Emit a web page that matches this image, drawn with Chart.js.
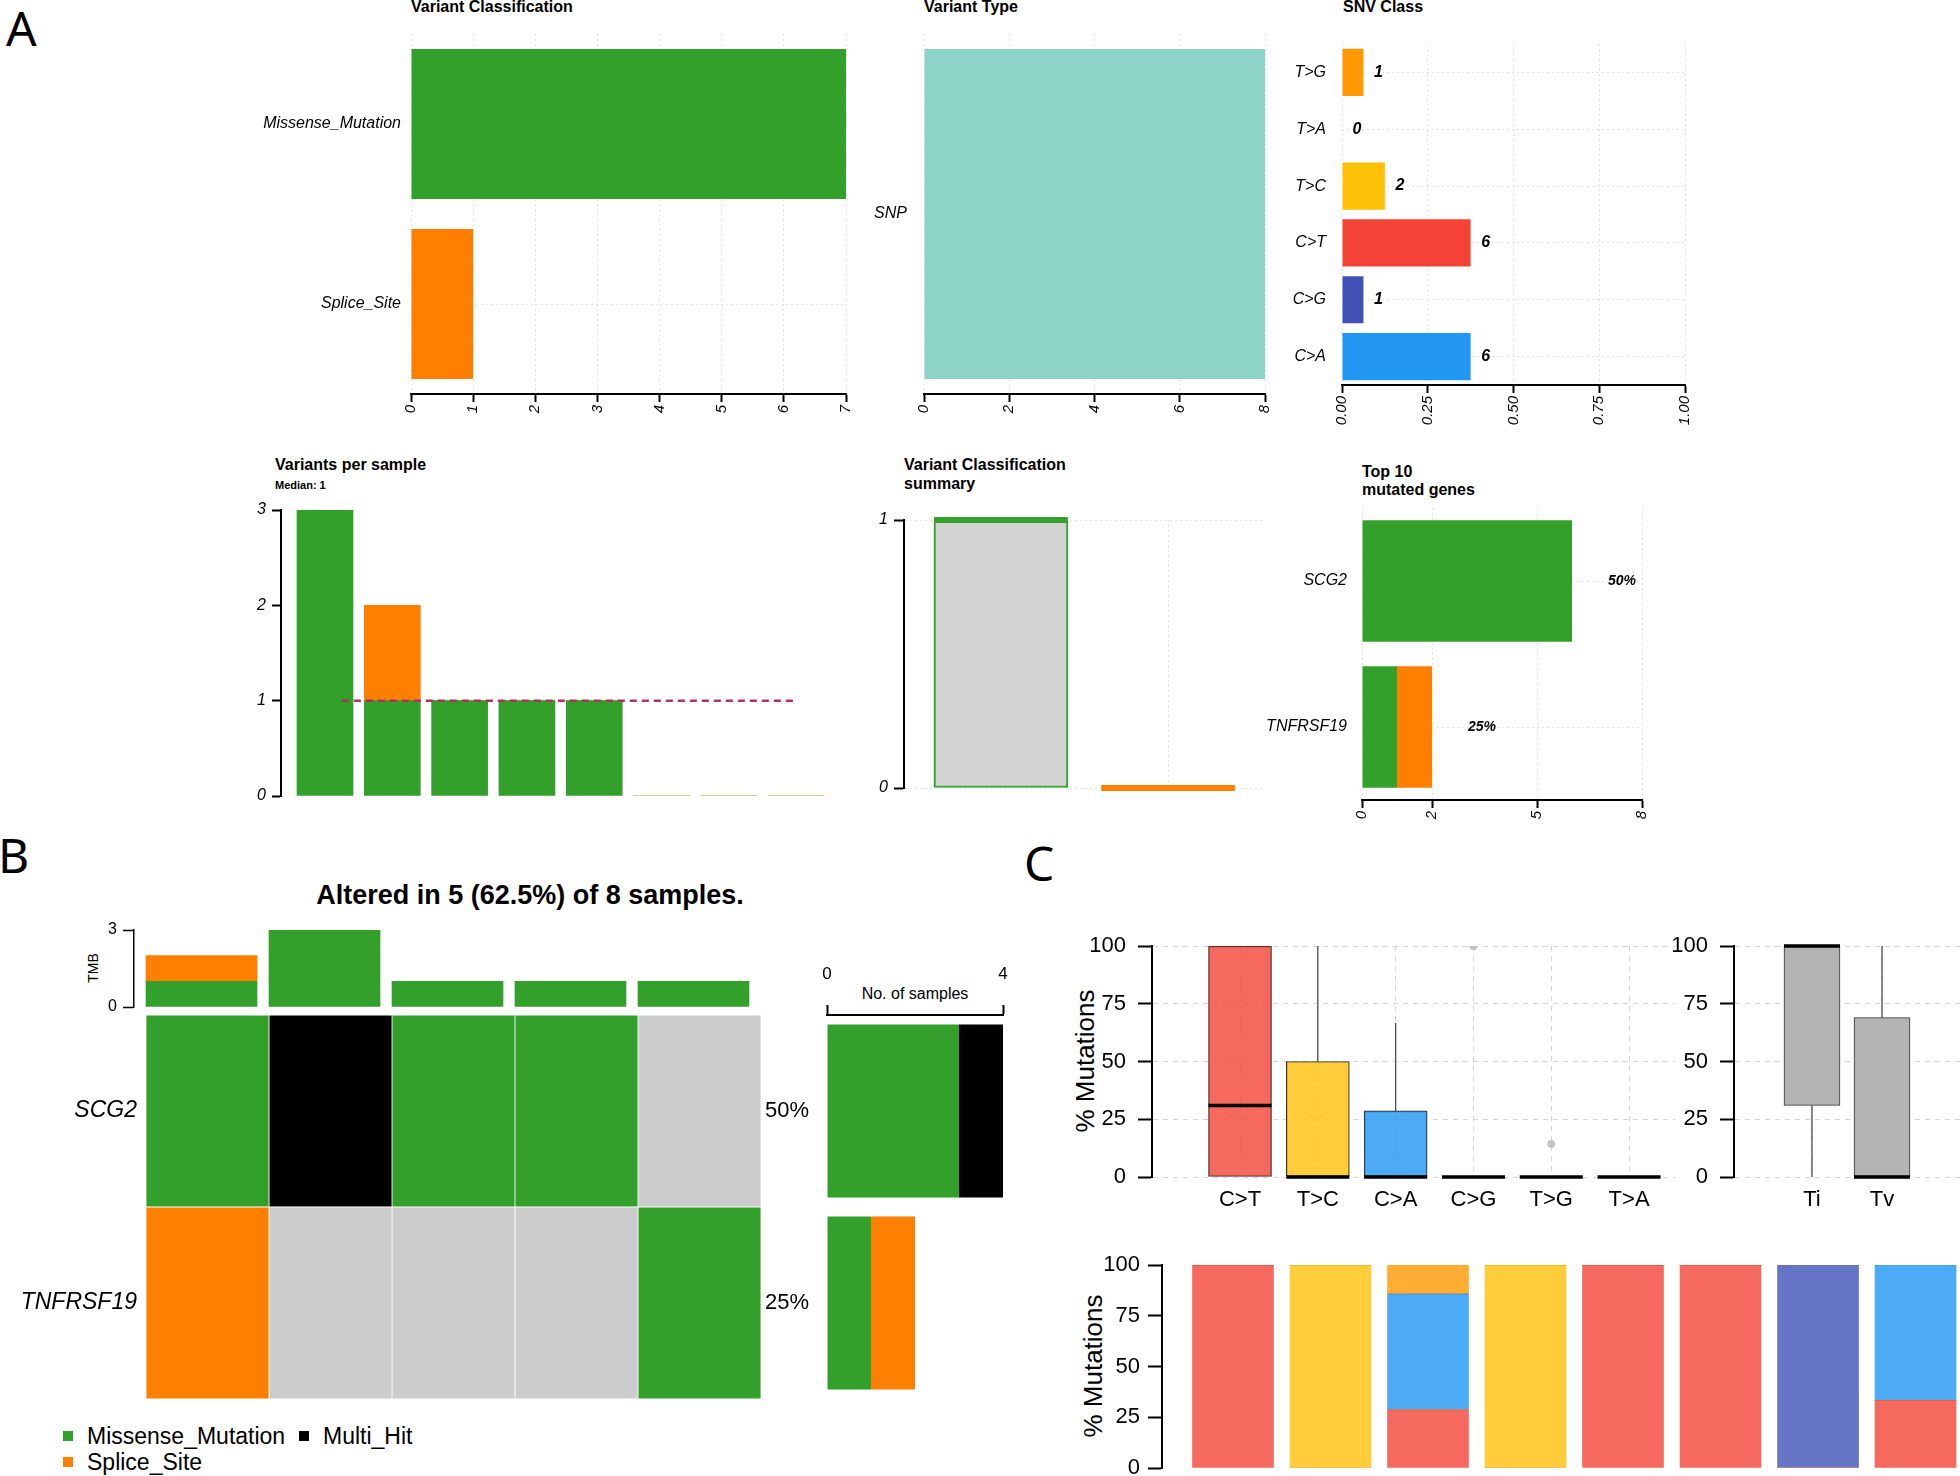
<!DOCTYPE html>
<html>
<head>
<meta charset="utf-8">
<title>Mutation summary</title>
<script src="https://cdn.jsdelivr.net/npm/chart.js@4.4.1/dist/chart.umd.min.js"></script>
<style>
  body { margin: 0; width: 1960px; height: 1476px; position: relative; overflow: hidden; background: #fff;
         font-family: 'Liberation Sans', Arial, Helvetica, sans-serif; color: #000; }
  .t { position: absolute; white-space: nowrap; line-height: 1; }
  .b { font-weight: bold; }
  .letter { position: absolute; font-family: 'Noto Sans', sans-serif; font-size: 48px; line-height: 1; }
  .rot { position: absolute; transform: rotate(-90deg); text-align: center; white-space: nowrap; }
  .sq { position: absolute; width: 10px; height: 10px; }
</style>
</head>
<body>

<!-- panel letters -->
<div class="letter" style="left:6px;top:4px">A</div>
<div class="letter" style="left:-2px;top:831px">B</div>
<div class="letter" style="left:1024px;top:839px">C</div>

<!-- panel A titles -->
<div class="t b" style="left:411px;top:-1px;font-size:16px">Variant Classification</div>
<div class="t b" style="left:924px;top:-1px;font-size:16px">Variant Type</div>
<div class="t b" style="left:1343px;top:-1px;font-size:16px">SNV Class</div>
<div class="t b" style="left:275px;top:457px;font-size:16px">Variants per sample</div>
<div class="t b" style="left:275px;top:480px;font-size:11px">Median: 1</div>
<div class="t b" style="left:904px;top:457px;font-size:16px">Variant Classification</div>
<div class="t b" style="left:904px;top:476px;font-size:16px">summary</div>
<div class="t b" style="left:1362px;top:464px;font-size:16px">Top 10</div>
<div class="t b" style="left:1362px;top:482px;font-size:16px">mutated genes</div>

<!-- panel B texts -->
<div class="t b" style="left:230px;width:600px;text-align:center;top:882px;font-size:27px">Altered in 5 (62.5%) of 8 samples.</div>
<div class="rot" style="left:63px;top:960px;width:60px;height:16px;line-height:16px;font-size:14px">TMB</div>
<div class="t" style="left:815px;width:200px;text-align:center;top:986px;font-size:16px">No. of samples</div>
<div class="sq" style="left:63px;top:1431px;background:#33A02C"></div>
<div class="t" style="left:87px;top:1425px;font-size:23px">Missense_Mutation</div>
<div class="sq" style="left:299px;top:1431px;background:#000"></div>
<div class="t" style="left:323px;top:1425px;font-size:23px">Multi_Hit</div>
<div class="sq" style="left:63px;top:1457px;background:#FF7F00"></div>
<div class="t" style="left:87px;top:1451px;font-size:23px">Splice_Site</div>

<!-- panel C axis titles -->
<div class="rot" style="left:985px;top:1046px;width:200px;height:30px;line-height:30px;font-size:26px">% Mutations</div>
<div class="rot" style="left:993px;top:1351px;width:200px;height:30px;line-height:30px;font-size:26px">% Mutations</div>

<script>
// ==========================================
// 1. DATA
// ==========================================

// Panel A - summary bars
const vcClasses = ['Missense_Mutation', 'Splice_Site'];
const vcCounts = [7, 1];
const vtTypes = ['SNP'];
const vtCounts = [8];
const snvClasses = ['T>G', 'T>A', 'T>C', 'C>T', 'C>G', 'C>A'];
const snvFraction = [0.0625, 0, 0.125, 0.375, 0.0625, 0.375];
const snvCounts = ['1', '0', '2', '6', '1', '6'];

// Panel A - variants per sample (8 samples, 3 without variants)
const sampleIds = ['S1', 'S2', 'S3', 'S4', 'S5', 'S6', 'S7', 'S8'];
const vpsMissense = [3, 1, 1, 1, 1, 0, 0, 0];
const vpsSplice = [0, 1, 0, 0, 0, 0, 0, 0];
const vpsMedian = 1;

// Panel A - variant classification summary (box stats)
const vcsQ1 = [0, 0];
const vcsQ3 = [1, 0];
const vcsMedian = [1, 0];

// Panel A - top mutated genes
const genes = ['SCG2', 'TNFRSF19'];
const geneMissense = [6, 1];
const geneSplice = [0, 1];
const genePct = ['50%', '25%'];
const geneTicks = [0, 2, 5, 8];

// Panel B - oncoplot
const tmbMissense = [1, 3, 1, 1, 1];
const tmbSplice = [1, 0, 0, 0, 0];
const oncoSamples = ['S1', 'S2', 'S3', 'S4', 'S5'];
const oncoSCG2 = ['Missense_Mutation', 'Multi_Hit', 'Missense_Mutation', 'Missense_Mutation', ''];
const oncoTNFRSF19 = ['Splice_Site', '', '', '', 'Missense_Mutation'];
const nsMissense = [3, 1];
const nsMultiHit = [1, 0];
const nsSplice = [0, 1];

// Panel C - Ti/Tv box plots
const boxClasses = ['C>T', 'T>C', 'C>A', 'C>G', 'T>G', 'T>A'];
const boxQ1 = [0, 0, 0, 0, 0, 0];
const boxMedian = [31, 0, 0, 0, 0, 0];
const boxQ3 = [100, 50, 28.6, 0, 0, 0];
const boxLo = [0, 0, 0, 0, 0, 0];
const boxHi = [100, 100, 66.7, 0, 0, 0];
const boxOutliers = [[], [], [], [100], [14.3], []];

const titvClasses = ['Ti', 'Tv'];
const titvQ1 = [31, 0];
const titvMedian = [100, 0];
const titvQ3 = [100, 69];
const titvLo = [0, 0];
const titvHi = [100, 100];

// Panel C - per sample composition (%)
const compCT = [100, 0, 28.6, 0, 100, 100, 0, 33.3];
const compTC = [0, 100, 0, 100, 0, 0, 0, 0];
const compCA = [0, 0, 57.1, 0, 0, 0, 0, 66.7];
const compCG = [0, 0, 0, 0, 0, 0, 100, 0];
const compTG = [0, 0, 14.3, 0, 0, 0, 0, 0];
const compTA = [0, 0, 0, 0, 0, 0, 0, 0];

// ==========================================
// 2. STYLES
// ==========================================

const FONT = "'Liberation Sans', Arial, Helvetica, sans-serif";
Chart.defaults.animation = false;
Chart.defaults.font.family = FONT;
Chart.defaults.color = '#000';
Chart.defaults.plugins.legend.display = false;
Chart.defaults.plugins.tooltip.enabled = false;

const COL = {
    Missense_Mutation: '#33A02C',
    Splice_Site: '#FF7F00',
    Multi_Hit: '#000000',
    '': '#CCCCCC'
};
const SNV_COL = {
    'T>G': '#FF9800', 'T>A': '#FFEB3B', 'T>C': '#FFC107',
    'C>T': '#F44336', 'C>G': '#3F51B5', 'C>A': '#2196F3'
};
const GRID_A = '#e2e2e2';
const GRID_C = '#d4d4d4';

function alpha(hex, a) {
    const n = parseInt(hex.slice(1), 16);
    return `rgba(${n >> 16},${(n >> 8) & 255},${n & 255},${a})`;
}

// ==========================================
// 3. HELPERS
// ==========================================

// canvas placed so the chart area lands on "area"; pad = room for axes
function renderChart(area, pad, config) {
    const cv = document.createElement('canvas');
    const w = area.w + pad.l + pad.r;
    const h = area.h + pad.t + pad.b;
    cv.width = w;
    cv.height = h;
    cv.style.cssText = `position:absolute;left:${area.x - pad.l}px;top:${area.y - pad.t}px;width:${w}px;height:${h}px`;
    document.body.appendChild(cv);

    const opts = config.options;
    const used = {};
    Object.values(opts.scales).forEach(s => {
        if (s.type === 'linear' && s.offset === undefined) s.offset = false;
        if (s.display === false) return;
        used[s.position] = true;
        s.afterFit = sc => {
            sc.paddingLeft = sc.paddingRight = sc.paddingTop = sc.paddingBottom = 0;
            if (sc.position === 'left') sc.width = pad.l;
            else if (sc.position === 'right') sc.width = pad.r;
            else if (sc.position === 'top') sc.height = pad.t;
            else sc.height = pad.b;
        };
    });
    opts.responsive = false;
    opts.maintainAspectRatio = false;
    opts.layout = { padding: {
        left: used.left ? 0 : pad.l, right: used.right ? 0 : pad.r,
        top: used.top ? 0 : pad.t, bottom: used.bottom ? 0 : pad.b
    } };
    return new Chart(cv, config);
}

// value axis of the panel A bar plots (rotated italic labels)
function valueAxisA(min, max, step, fmt) {
    return {
        type: 'linear', position: 'bottom', min: min, max: max,
        ticks: { stepSize: step, autoSkip: false, maxRotation: 90, minRotation: 90, padding: 3,
                 font: { size: 15, style: 'italic' }, callback: fmt || (v => v) },
        grid: { color: GRID_A, tickColor: '#000', tickWidth: 2, tickLength: 8 },
        border: { color: '#000', width: 2, dash: [2, 3] }
    };
}

function catAxisA(padding) {
    return {
        type: 'category', position: 'left',
        ticks: { padding: padding, autoSkip: false, font: { size: 16, style: 'italic' } },
        grid: { color: GRID_A, offset: false, drawTicks: false },
        border: { display: false, dash: [2, 3] }
    };
}

// text at the end of horizontal bars
function endLabels(labels, ends, offset, font) {
    return {
        id: 'endLabels',
        afterDatasetsDraw(chart) {
            const { ctx, scales } = chart;
            ctx.save();
            ctx.font = font;
            ctx.fillStyle = '#000';
            ctx.textAlign = 'center';
            ctx.textBaseline = 'middle';
            labels.forEach((txt, i) => {
                ctx.fillText(txt, scales.x.getPixelForValue(ends[i]) + offset, scales.y.getPixelForValue(i));
            });
            ctx.restore();
        }
    };
}

// box plot pieces as line segments
function medianSegments(medians, half) {
    const pts = [];
    medians.forEach((m, i) => {
        pts.push({ x: i + 1 - half, y: m }, { x: i + 1 + half, y: m }, { x: i + 1.5, y: null });
    });
    return pts;
}

function whiskerSegments(q1, q3, lo, hi) {
    const pts = [];
    q1.forEach((v, i) => {
        if (hi[i] > q3[i]) pts.push({ x: i + 1, y: q3[i] }, { x: i + 1, y: hi[i] }, { x: i + 1, y: null });
        if (lo[i] < q1[i]) pts.push({ x: i + 1, y: q1[i] }, { x: i + 1, y: lo[i] }, { x: i + 1, y: null });
    });
    return pts;
}

function boxPlot(area, pad, cats, q1, med, q3, lo, hi, outliers, colors, xRange, boxPx, half) {
    const outPts = [];
    outliers.forEach((arr, i) => arr.forEach(v => outPts.push({ x: i + 1, y: v })));
    return renderChart(area, pad, {
        type: 'bar',
        data: { datasets: [
            { type: 'line', data: medianSegments(med, half), borderColor: '#000', borderWidth: 3.5,
              pointRadius: 0, spanGaps: false, clip: false },
            { type: 'line', data: whiskerSegments(q1, q3, lo, hi), borderColor: '#4d4d4d', borderWidth: 1.3,
              pointRadius: 0, spanGaps: false, clip: false },
            { type: 'scatter', data: outPts, pointRadius: 4, backgroundColor: '#c4c4c4', borderWidth: 0 },
            { data: cats.map((c, i) => ({ x: i + 1, y: [q1[i], q3[i]] })), backgroundColor: colors,
              borderColor: '#333', borderWidth: 1, borderSkipped: false, barThickness: boxPx, clip: false }
        ] },
        options: { scales: {
            x: { type: 'linear', position: 'bottom', min: xRange[0], max: xRange[1],
                 afterBuildTicks: s => { s.ticks = cats.map((c, i) => ({ value: i + 1 })); },
                 ticks: { autoSkip: false, maxRotation: 0, padding: 10, font: { size: 22 },
                          callback: v => cats[v - 1] },
                 grid: { color: GRID_C, offset: false, drawTicks: false },
                 border: { display: false, dash: [5, 5] } },
            y: { position: 'left', min: 0, max: 100,
                 ticks: { stepSize: 25, padding: 12, font: { size: 22 } },
                 grid: { color: GRID_C, tickColor: '#000', tickWidth: 2, tickLength: 14 },
                 border: { color: '#000', width: 2, dash: [5, 5] } }
        } }
    });
}

// ==========================================
// 4. PANEL A
// ==========================================

renderChart({ x: 411, y: 34, w: 435, h: 360 }, { l: 220, r: 20, t: 10, b: 45 }, {
    type: 'bar',
    data: { labels: vcClasses, datasets: [{
        data: vcCounts, backgroundColor: vcClasses.map(c => COL[c]),
        barPercentage: 0.833, categoryPercentage: 1 }] },
    options: { indexAxis: 'y', scales: { x: valueAxisA(0, 7, 1), y: catAxisA(10) } }
});

renderChart({ x: 924, y: 34, w: 341, h: 360 }, { l: 70, r: 20, t: 10, b: 45 }, {
    type: 'bar',
    data: { labels: vtTypes, datasets: [{
        data: vtCounts, backgroundColor: '#8DD3C7', barPercentage: 0.917, categoryPercentage: 1 }] },
    options: { indexAxis: 'y', scales: { x: valueAxisA(0, 8, 2), y: catAxisA(17) } }
});

renderChart({ x: 1342, y: 44, w: 343, h: 341 }, { l: 70, r: 30, t: 10, b: 60 }, {
    type: 'bar',
    data: { labels: snvClasses, datasets: [{
        data: snvFraction, backgroundColor: snvClasses.map(c => SNV_COL[c]),
        barPercentage: 0.83, categoryPercentage: 1 }] },
    options: { indexAxis: 'y', scales: {
        x: valueAxisA(0, 1, 0.25, v => v.toFixed(2)), y: catAxisA(16) } },
    plugins: [endLabels(snvCounts, snvFraction, 15, 'italic bold 16px ' + FONT)]
});

renderChart({ x: 281, y: 510, w: 549, h: 286 }, { l: 40, r: 10, t: 10, b: 10 }, {
    type: 'bar',
    data: { datasets: [
        { type: 'line', data: [{ x: 1.25, y: vpsMedian }, { x: sampleIds.length, y: vpsMedian }],
          borderColor: '#B03060', borderWidth: 2.5, borderDash: [7, 5], pointRadius: 0, stack: 'median' },
        { data: vpsMissense.map((v, i) => ({ x: i + 1, y: v })), backgroundColor: COL.Missense_Mutation, barThickness: 56 },
        { data: vpsSplice.map((v, i) => ({ x: i + 1, y: v })), backgroundColor: COL.Splice_Site, barThickness: 56 }
    ] },
    options: { scales: {
        x: { type: 'linear', display: false, stacked: true, min: 0.346, max: 8.503 },
        y: { position: 'left', stacked: true, min: 0, max: 3,
             ticks: { stepSize: 1, padding: 6, font: { size: 16, style: 'italic' } },
             grid: { drawOnChartArea: false, tickColor: '#000', tickWidth: 2, tickLength: 9 },
             border: { color: '#000', width: 2 } }
    } }
});

renderChart({ x: 904, y: 520, w: 361, h: 268 }, { l: 40, r: 10, t: 10, b: 10 }, {
    type: 'bar',
    data: { datasets: [
        ...vcClasses.map((c, i) => ({
            type: 'line', data: [{ x: i + 0.6, y: vcsMedian[i] }, { x: i + 1.4, y: vcsMedian[i] }],
            borderColor: COL[c], borderWidth: 6, pointRadius: 0, clip: false })),
        { data: vcClasses.map((c, i) => ({ x: i + 1, y: [vcsQ1[i], vcsQ3[i]] })), backgroundColor: '#D3D3D3',
          borderColor: vcClasses.map(c => COL[c]), borderWidth: 2, borderSkipped: false, barThickness: 134, clip: false }
    ] },
    options: { scales: {
        x: { type: 'linear', position: 'bottom', min: 0.42, max: 2.58,
             afterBuildTicks: s => { s.ticks = vcClasses.map((c, i) => ({ value: i + 1 })); },
             ticks: { display: false },
             grid: { color: GRID_A, offset: false, drawTicks: false },
             border: { display: false, dash: [2, 3] } },
        y: { position: 'left', min: 0, max: 1,
             ticks: { stepSize: 1, padding: 6, font: { size: 16, style: 'italic' } },
             grid: { color: GRID_A, tickColor: '#000', tickWidth: 2, tickLength: 10 },
             border: { color: '#000', width: 2, dash: [2, 3] } }
    } }
});

renderChart({ x: 1362, y: 508, w: 280, h: 292 }, { l: 120, r: 60, t: 10, b: 40 }, {
    type: 'bar',
    data: { labels: genes, datasets: [
        { data: geneMissense, backgroundColor: COL.Missense_Mutation, barPercentage: 0.833, categoryPercentage: 1 },
        { data: geneSplice, backgroundColor: COL.Splice_Site, barPercentage: 0.833, categoryPercentage: 1 }
    ] },
    options: { indexAxis: 'y', scales: {
        x: Object.assign(valueAxisA(0, 8, 1), { stacked: true,
             afterBuildTicks: s => { s.ticks = geneTicks.map(v => ({ value: v })); } }),
        y: Object.assign(catAxisA(15), { stacked: true })
    } },
    plugins: [endLabels(genePct, genes.map((g, i) => geneMissense[i] + geneSplice[i]), 50, 'italic bold 14px ' + FONT)]
});

// ==========================================
// 5. PANEL B (oncoplot)
// ==========================================

renderChart({ x: 134, y: 930, w: 627, h: 77 }, { l: 30, r: 10, t: 10, b: 5 }, {
    type: 'bar',
    data: { datasets: [
        { data: tmbMissense.map((v, i) => ({ x: i + 1, y: v })), backgroundColor: COL.Missense_Mutation, barThickness: 111 },
        { data: tmbSplice.map((v, i) => ({ x: i + 1, y: v })), backgroundColor: COL.Splice_Site, barThickness: 111 }
    ] },
    options: { scales: {
        x: { type: 'linear', display: false, stacked: true, min: 0.451, max: 5.549 },
        y: { position: 'left', stacked: true, min: 0, max: 3,
             ticks: { stepSize: 3, padding: 6, font: { size: 16 } },
             grid: { drawOnChartArea: false, tickColor: '#000', tickWidth: 1.5, tickLength: 11 },
             border: { color: '#000', width: 1.5 } }
    } }
});

const oncoRows = [oncoSCG2, oncoTNFRSF19];
renderChart({ x: 146, y: 1015, w: 615, h: 384 }, { l: 146, r: 5, t: 5, b: 5 }, {
    type: 'bar',
    data: { labels: genes, datasets: oncoSamples.map((s, j) => ({
        label: s, data: genes.map(() => 1), backgroundColor: oncoRows.map(row => COL[row[j]]),
        borderColor: '#ffffff', borderWidth: 0.75, borderSkipped: false,
        barPercentage: 1, categoryPercentage: 1 })) },
    options: { indexAxis: 'y', scales: {
        x: { type: 'linear', display: false, stacked: true, min: 0, max: oncoSamples.length },
        y: { position: 'left', stacked: true,
             ticks: { padding: 9, font: { size: 23, style: 'italic' } },
             grid: { display: false, drawTicks: false }, border: { display: false } }
    } }
});

renderChart({ x: 827, y: 1015, w: 176, h: 384 }, { l: 70, r: 10, t: 50, b: 5 }, {
    type: 'bar',
    data: { labels: genes, datasets: [
        { data: nsMissense, backgroundColor: COL.Missense_Mutation, barPercentage: 0.9, categoryPercentage: 1 },
        { data: nsMultiHit, backgroundColor: COL.Multi_Hit, barPercentage: 0.9, categoryPercentage: 1 },
        { data: nsSplice, backgroundColor: COL.Splice_Site, barPercentage: 0.9, categoryPercentage: 1 }
    ] },
    options: { indexAxis: 'y', scales: {
        x: { position: 'top', stacked: true, min: 0, max: 4,
             ticks: { stepSize: 4, padding: 20, font: { size: 17 } },
             grid: { drawOnChartArea: false, tickColor: '#000', tickWidth: 2, tickLength: 10 },
             border: { color: '#000', width: 2 } },
        y: { position: 'left', stacked: true,
             ticks: { padding: 18, font: { size: 22 }, callback: (v, i) => genePct[i] },
             grid: { display: false, drawTicks: false }, border: { display: false } }
    } }
});

// ==========================================
// 6. PANEL C (Ti/Tv)
// ==========================================

boxPlot({ x: 1152, y: 946, w: 523, h: 231 }, { l: 80, r: 10, t: 10, b: 40 },
    boxClasses, boxQ1, boxMedian, boxQ3, boxLo, boxHi, boxOutliers,
    boxClasses.map(c => alpha(SNV_COL[c], 0.8)), [-0.131, 6.59], 63, 0.405);

boxPlot({ x: 1734, y: 946, w: 226, h: 231 }, { l: 80, r: 0, t: 10, b: 40 },
    titvClasses, titvQ1, titvMedian, titvQ3, titvLo, titvHi, [[], []],
    titvClasses.map(() => '#B3B3B3'), [-0.114, 3.114], 56, 0.4);

const compSeries = { 'C>T': compCT, 'T>C': compTC, 'C>A': compCA, 'C>G': compCG, 'T>G': compTG, 'T>A': compTA };
renderChart({ x: 1162, y: 1265, w: 798, h: 203 }, { l: 80, r: 0, t: 10, b: 8 }, {
    type: 'bar',
    data: { datasets: boxClasses.map(c => ({
        data: compSeries[c].map((v, i) => ({ x: i + 1, y: v })),
        backgroundColor: alpha(SNV_COL[c], 0.8), barThickness: 81 })) },
    options: { scales: {
        x: { type: 'linear', display: false, stacked: true, min: 0.272, max: 8.456 },
        y: { position: 'left', stacked: true, min: 0, max: 100,
             ticks: { stepSize: 25, padding: 8, font: { size: 22 } },
             grid: { drawOnChartArea: false, tickColor: '#000', tickWidth: 2, tickLength: 14 },
             border: { color: '#000', width: 2 } }
    } }
});
</script>
</body>
</html>
